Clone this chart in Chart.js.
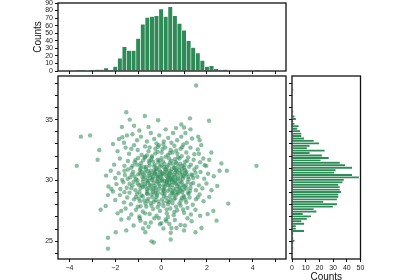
<!DOCTYPE html>
<html>
<head>
<meta charset="utf-8">
<script src="https://cdn.jsdelivr.net/npm/chart.js@4.4.1/dist/chart.umd.min.js"></script>
<style>
  html, body { margin: 0; padding: 0; width: 400px; height: 280px; overflow: hidden; background: #fff; }
  canvas { position: absolute; left: 0; top: 0; }
</style>
</head>
<body>
<canvas id="topHist" width="400" height="290"></canvas>
<canvas id="scatter" width="400" height="290"></canvas>
<canvas id="rightHist" width="400" height="290"></canvas>
<script>
// histogram on top (x marginal), bin centres and counts
const topBinCenters = [-3.6, -3.4, -3.2, -3.0, -2.8, -2.6, -2.4, -2.2, -2.0, -1.8,
  -1.6, -1.4, -1.2, -1.0, -0.8, -0.6, -0.4, -0.2, 0.0, 0.2,
  0.4, 0.6, 0.8, 1.0, 1.2, 1.4, 1.6, 1.8, 2.0, 2.2,
  2.4, 2.6, 2.8, 3.0, 3.2, 3.4, 3.6, 3.8, 4.0, 4.2];
const topBinCounts = [1, 1, 0, 1, 2, 2, 4, 1, 6, 17,
  32, 27, 27, 43, 62, 71, 72, 73, 82, 72,
  85, 73, 63, 54, 40, 31, 24, 14, 6, 7,
  3, 1, 2, 0, 0, 0, 0, 0, 0, 1];

// histogram on the right (y marginal)
const rightBinCenters = [24.45, 24.65, 24.85, 25.05, 25.25, 25.45, 25.65, 25.85,
  26.05, 26.25, 26.45, 26.65, 26.85, 27.05, 27.25, 27.45, 27.65, 27.85,
  28.05, 28.25, 28.45, 28.65, 28.85, 29.05, 29.25, 29.45, 29.65, 29.85,
  30.05, 30.25, 30.45, 30.65, 30.85, 31.05, 31.25, 31.45, 31.65, 31.85,
  32.05, 32.25, 32.45, 32.65, 32.85, 33.05, 33.25, 33.45, 33.65, 33.85,
  34.05, 34.25, 34.45, 34.65, 34.85, 35.05, 35.25, 35.45, 35.65, 35.85,
  36.05, 36.25, 36.45, 36.65, 36.85, 37.05, 37.25, 37.45, 37.65, 37.85];
const rightBinCounts = [1, 0, 1, 2, 1, 0, 1, 9,
  3, 3, 9, 7, 11, 14, 8, 18, 16, 30,
  33, 23, 33, 34, 34, 36, 35, 35, 34, 37,
  38, 49, 44, 31, 32, 44, 39, 35, 21, 27,
  22, 13, 24, 11, 13, 20, 16, 9, 7, 7,
  6, 4, 5, 2, 1, 3, 2, 0, 1, 0,
  0, 0, 0, 0, 0, 0, 0, 1];

// scatter points [x, y]
const outerPts = [
  [-3.68, 31.2], [-3.5, 33.6], [-3.1, 33.7], [-2.7, 32.5], [-2.77, 31.7], [-1.52, 35.6],
  [-1.37, 35.0], [-0.71, 35.3], [-1.71, 34.4], [-1.18, 34.5], [-0.13, 34.95], [-2.1, 33.0],
  [-1.84, 33.4], [-1.49, 33.7], [-1.69, 33.55], [1.53, 37.8], [1.26, 35.1], [2.09, 34.9],
  [0.88, 34.6], [2.19, 32.3], [2.63, 31.4], [4.16, 31.2], [2.87, 30.8], [1.65, 32.2],
  [1.84, 31.8], [1.97, 31.2], [1.62, 33.6], [1.68, 33.3], [1.28, 34.2], [1.06, 33.9],
  [-2.32, 24.4], [-2.32, 25.3], [-2.64, 27.6], [-2.42, 27.9], [-1.98, 25.75], [-1.52, 25.9],
  [-1.74, 26.8], [-1.41, 26.9], [-0.42, 25.0], [-0.32, 24.9], [0.42, 25.15], [0.42, 25.7],
  [1.0, 25.9], [1.5, 25.75], [1.76, 26.1], [2.42, 26.7], [2.28, 27.5], [2.03, 27.25],
  [2.93, 28.1], [-2.17, 29.3], [-2.32, 28.8], [-0.69, 25.75], [-0.69, 26.5], [-0.79, 26.05],
  [0.01, 26.5], [1.04, 26.3], [0.67, 26.1], [1.33, 26.65], [-1.74, 27.5], [-0.93, 26.9],
  [0.23, 26.65]
];
const upperPts = [
  [-1.62, 33.1], [-1.25, 33.8], [-1.05, 33.3], [-0.88, 33.6], [-0.62, 33.2], [-0.45, 33.9],
  [-0.3, 33.4], [-0.08, 33.7], [0.12, 33.2], [0.31, 33.5], [0.52, 33.9], [0.7, 33.3],
  [0.88, 33.6], [1.12, 33.1], [1.35, 33.45], [-0.2, 33.05], [0.45, 33.1], [-0.95, 34.1],
  [0.2, 34.2], [0.65, 34.3], [-0.55, 34.4], [1.0, 34.35],
  [-1.9, 32.4], [-1.55, 32.7], [-1.4, 32.2], [-1.18, 32.9], [-1.02, 32.5], [-0.85, 32.1],
  [-0.7, 32.8], [-0.55, 32.4], [-0.4, 32.0], [-0.25, 32.6], [-0.1, 32.9], [0.02, 32.3],
  [0.18, 32.7], [0.3, 32.1], [0.42, 32.5], [0.58, 32.85], [0.71, 32.2], [0.85, 32.6],
  [0.97, 32.95], [1.1, 32.3], [1.28, 32.7], [1.45, 32.15], [1.6, 32.55], [-0.62, 32.05],
  [-0.15, 32.35], [0.5, 32.3], [0.9, 32.0], [-1.3, 32.6], [0.1, 32.95], [1.75, 32.9],
  [-2.05, 31.3], [-1.8, 31.8], [-1.6, 31.2], [-1.45, 31.6], [-1.3, 31.05], [-1.15, 31.5],
  [-1.0, 31.85], [-0.9, 31.2], [-0.78, 31.65], [-0.65, 31.1], [-0.52, 31.45], [-0.4, 31.9],
  [-0.28, 31.3], [-0.15, 31.7], [-0.05, 31.15], [0.08, 31.55], [0.2, 31.95], [0.33, 31.25],
  [0.45, 31.6], [0.57, 31.05], [0.68, 31.4], [0.8, 31.8], [0.92, 31.2], [1.05, 31.55],
  [1.18, 31.9], [1.3, 31.3], [1.42, 31.7], [1.55, 31.1], [1.7, 31.5], [1.9, 31.25],
  [2.1, 31.7], [-0.7, 31.95], [0.15, 31.35], [0.6, 31.75], [-1.05, 31.3], [0.35, 31.8],
  [-0.35, 31.55], [1.0, 31.05], [-0.2, 31.0], [0.75, 31.15]
];
const middlePts = [
  [-2.4, 30.4], [-2.2, 30.8], [-2.0, 30.2], [-1.85, 30.6], [-1.7, 30.05], [-1.58, 30.45],
  [-1.45, 30.9], [-1.35, 30.25], [-1.22, 30.7], [-1.1, 30.1], [-1.0, 30.5], [-0.92, 30.85],
  [-0.82, 30.3], [-0.72, 30.65], [-0.62, 30.0], [-0.55, 30.4], [-0.45, 30.8], [-0.37, 30.15],
  [-0.28, 30.55], [-0.2, 30.95], [-0.12, 30.3], [-0.04, 30.7], [0.05, 30.1], [0.13, 30.5],
  [0.22, 30.9], [0.3, 30.25], [0.38, 30.6], [0.47, 30.05], [0.55, 30.45], [0.64, 30.85],
  [0.72, 30.2], [0.82, 30.6], [0.9, 30.95], [1.0, 30.35], [1.1, 30.75], [1.2, 30.1],
  [1.32, 30.5], [1.45, 30.9], [1.58, 30.3], [1.72, 30.7], [1.88, 30.15], [2.05, 30.55],
  [2.3, 30.35], [2.55, 30.8], [-0.5, 30.6], [0.0, 30.4], [0.35, 30.8], [0.7, 30.5],
  [-0.85, 30.7], [-0.15, 30.15], [0.6, 30.3], [-1.28, 30.5], [1.05, 30.6], [0.25, 30.35],
  [-0.68, 30.25], [0.95, 30.15], [-0.3, 30.85], [0.45, 30.7], [-1.6, 30.8], [1.4, 30.2],
  [-2.3, 29.5], [-2.1, 29.1], [-1.95, 29.7], [-1.78, 29.3], [-1.65, 29.85], [-1.5, 29.4],
  [-1.38, 29.0], [-1.25, 29.6], [-1.12, 29.2], [-1.02, 29.75], [-0.9, 29.35], [-0.8, 29.9],
  [-0.7, 29.5], [-0.6, 29.1], [-0.5, 29.65], [-0.42, 29.25], [-0.32, 29.8], [-0.24, 29.4],
  [-0.14, 29.0], [-0.06, 29.55], [0.04, 29.95], [0.12, 29.3], [0.2, 29.7], [0.29, 29.15],
  [0.37, 29.5], [0.46, 29.9], [0.54, 29.35], [0.63, 29.75], [0.72, 29.05], [0.8, 29.45],
  [0.9, 29.85], [0.98, 29.25], [1.08, 29.6], [1.18, 29.0], [1.28, 29.4], [1.4, 29.8],
  [1.52, 29.2], [1.65, 29.6], [1.8, 29.35], [1.98, 29.75], [2.2, 29.2], [2.45, 29.55],
  [-0.35, 29.05], [0.1, 29.6], [0.55, 29.1], [-0.85, 29.6], [1.0, 29.5], [-0.15, 29.85],
  [0.4, 29.25], [-1.2, 29.9], [0.75, 29.7], [-0.55, 29.4], [0.25, 29.95], [1.3, 29.7],
  [-0.95, 29.05], [0.85, 29.15]
];
const corePts = [
  [-0.78, 30.12], [-0.42, 30.48], [-0.06, 30.82], [0.28, 30.02], [0.62, 30.66], [0.96, 30.42],
  [-0.96, 29.62], [-0.58, 29.82], [-0.22, 29.18], [0.16, 29.48], [0.48, 29.62], [0.82, 29.32],
  [1.16, 29.88], [-1.16, 30.32], [-0.36, 30.28], [0.08, 30.62], [0.42, 30.18], [0.78, 30.88],
  [1.12, 30.52], [-0.7, 29.72], [-0.28, 29.58], [0.14, 29.12], [0.58, 29.84], [0.94, 29.62],
  [-0.5, 31.22], [-0.12, 31.48], [0.26, 31.12], [0.64, 31.52], [1.02, 31.28], [-0.88, 31.42],
  [-0.62, 28.92], [-0.18, 28.78], [0.22, 28.58], [0.66, 28.82], [1.06, 28.42], [-0.98, 28.52],
  [-0.3, 30.62], [0.36, 29.78], [-0.08, 29.32], [0.72, 30.08], [-1.38, 29.72], [1.36, 30.42],
  [-0.44, 31.72], [0.52, 31.32], [-0.74, 28.36], [0.4, 28.42], [0.02, 31.82], [-1.24, 31.22],
  [1.22, 31.12], [0.18, 30.72]
];
const innerPts = [
  [-0.92, 30.58], [-0.66, 30.92], [-0.48, 30.22], [-0.24, 30.72], [-0.02, 30.26], [0.18, 30.94],
  [0.34, 30.44], [0.52, 30.12], [0.68, 30.78], [0.86, 30.28], [1.04, 30.86], [-1.04, 30.02],
  [-0.8, 29.48], [-0.56, 29.98], [-0.34, 29.34], [-0.1, 29.72], [0.08, 29.22], [0.3, 29.62],
  [0.5, 29.02], [0.7, 29.56], [0.92, 29.04], [1.1, 29.34], [-0.74, 31.08], [-0.52, 31.62],
  [-0.3, 31.16], [-0.08, 31.62], [0.12, 31.08], [0.38, 31.46], [0.6, 31.02], [0.84, 31.36],
  [1.14, 31.62], [-1.12, 31.68], [-0.86, 28.76], [-0.6, 28.32], [-0.38, 28.62], [-0.12, 28.28],
  [0.12, 28.72], [0.34, 28.22], [0.56, 28.46], [0.8, 28.12], [1.0, 28.62], [-0.26, 32.22],
  [0.06, 32.58], [0.38, 32.26], [0.66, 32.46], [-0.5, 32.72], [0.24, 27.62], [-0.42, 27.92],
  [0.58, 27.42], [-0.9, 27.88], [0.02, 30.54], [0.46, 30.94], [-0.16, 30.48], [0.24, 29.84],
  [-0.62, 29.26], [0.66, 29.28], [-0.4, 30.02], [0.84, 29.94], [-1.3, 29.36], [1.26, 29.14],
  [-0.2, 29.98], [0.14, 29.96], [0.44, 30.36], [-0.58, 30.76], [0.9, 30.66], [-0.28, 28.96],
  [0.46, 28.96], [-1.46, 30.14], [1.5, 30.64], [0.0, 31.26], [-0.72, 31.86], [0.74, 31.9],
  [-0.14, 32.76], [0.92, 32.74], [-1.6, 29.04], [1.6, 28.62], [-1.02, 27.84], [0.96, 27.62],
  [-0.1, 26.92], [0.36, 26.42], [-0.76, 30.46], [0.28, 30.58], [0.62, 29.98], [-0.44, 29.56],
  [0.04, 28.94], [-0.9, 30.98], [1.18, 30.28], [-0.04, 30.0], [0.36, 30.12], [-0.2, 30.34]
];
const lowerPts = [
  [-2.0, 28.4], [-1.8, 28.8], [-1.62, 28.2], [-1.48, 28.6], [-1.32, 28.05], [-1.18, 28.45],
  [-1.05, 28.9], [-0.92, 28.3], [-0.8, 28.7], [-0.68, 28.1], [-0.56, 28.5], [-0.44, 28.85],
  [-0.32, 28.25], [-0.2, 28.65], [-0.08, 28.05], [0.04, 28.45], [0.15, 28.9], [0.27, 28.3],
  [0.38, 28.7], [0.5, 28.15], [0.62, 28.55], [0.74, 28.95], [0.86, 28.35], [0.98, 28.75],
  [1.1, 28.2], [1.24, 28.6], [1.38, 28.0], [1.52, 28.45], [1.68, 28.85], [1.85, 28.3],
  [2.1, 28.65], [-0.6, 28.9], [0.3, 28.05], [0.9, 28.55], [-0.25, 28.4], [0.55, 28.8],
  [-1.1, 28.65], [0.1, 28.2], [-0.45, 28.15], [1.2, 28.9],
  [-1.9, 27.3], [-1.55, 27.7], [-1.3, 27.2], [-1.1, 27.6], [-0.95, 27.05], [-0.8, 27.45],
  [-0.65, 27.85], [-0.5, 27.25], [-0.35, 27.65], [-0.2, 27.1], [-0.05, 27.5], [0.1, 27.9],
  [0.25, 27.3], [0.4, 27.7], [0.55, 27.15], [0.7, 27.55], [0.85, 27.95], [1.0, 27.35],
  [1.15, 27.75], [1.3, 27.2], [1.5, 27.6], [1.7, 27.1], [-0.7, 27.3], [0.3, 27.0],
  [0.65, 27.85], [-0.15, 27.8],
  [-1.2, 26.3], [-0.9, 26.7], [-0.55, 26.2], [-0.3, 26.9], [-0.05, 26.4], [0.2, 26.8],
  [0.45, 26.1], [0.6, 26.75], [0.85, 26.35], [1.15, 26.9], [0.1, 26.05], [-0.45, 26.55]
];

// axis ticks
const xTicks = [-4, -3, -2, -1, 0, 1, 2, 3, 4, 5];
const xTickLabels = [-4, -2, 0, 2, 4];
const yTicks = [24, 25, 26, 27, 28, 29, 30, 31, 32, 33, 34, 35, 36, 37, 38];
const yTickLabels = [25, 30, 35];
const countTicksTop = [0, 10, 20, 30, 40, 50, 60, 70, 80, 90];
const countTicksRight = [0, 10, 20, 30, 40, 50];

const green = 'rgb(46,139,87)';
const tickFont = { family: '"Liberation Sans", Arial, sans-serif', size: 7 };
const titleFont = { family: '"Liberation Sans", Arial, sans-serif', size: 10, lineHeight: 1 };

function fmt(v) {
  return v < 0 ? '\u2212' + Math.abs(v) : String(v);
}

// fix axis box size so the three plot areas line up
function fixBox(size) {
  return function (scale) {
    if (scale.isHorizontal()) scale.height = size; else scale.width = size;
    scale.paddingTop = 0; scale.paddingBottom = 0;
    scale.paddingLeft = 0; scale.paddingRight = 0;
  };
}

function setTicks(list) {
  return function (scale) {
    scale.ticks = list.map(v => ({ value: v }));
  };
}

const framePlugin = {
  id: 'frame',
  afterDraw(chart) {
    const { ctx, chartArea: a } = chart;
    ctx.save();
    ctx.strokeStyle = '#111';
    ctx.lineWidth = 1.3;
    ctx.strokeRect(a.left, a.top, a.right - a.left, a.bottom - a.top);
    ctx.restore();
  }
};

function axis(extra) {
  return Object.assign({
    type: 'linear',
    offset: false,
    border: { display: false },
    grid: { drawOnChartArea: false, drawTicks: true, tickLength: 3, color: '#111', offset: false },
    ticks: { font: tickFont, color: '#222', padding: 2, autoSkip: false, maxRotation: 0 }
  }, extra);
}

const common = {
  responsive: false,
  animation: false,
  devicePixelRatio: 1,
  plugins: { legend: { display: false }, tooltip: { enabled: false } }
};

// top histogram
new Chart(document.getElementById('topHist'), {
  type: 'bar',
  data: {
    datasets: [{
      data: topBinCenters.map((c, i) => ({ x: c, y: topBinCounts[i] })),
      backgroundColor: green,
      borderColor: 'rgba(255,255,255,0.75)',
      borderWidth: 0.6,
      barPercentage: 1,
      categoryPercentage: 1
    }]
  },
  options: Object.assign({}, common, {
    layout: { padding: { left: 33, top: 3, right: 114, bottom: 211 } },
    scales: {
      x: axis({
        min: -4.5, max: 5.45,
        afterBuildTicks: setTicks(xTicks),
        afterFit: fixBox(8),
        ticks: { display: false }
      }),
      y: axis({
        min: 0, max: 90,
        afterBuildTicks: setTicks(countTicksTop),
        afterFit: fixBox(25),
        title: { display: true, text: 'Counts', font: titleFont, color: '#111', padding: 0 },
        ticks: { font: tickFont, color: '#222', padding: 2, autoSkip: false }
      })
    }
  }),
  plugins: [framePlugin]
});

// scatter
const allPts = outerPts.concat(upperPts, middlePts, corePts, innerPts, lowerPts);
new Chart(document.getElementById('scatter'), {
  type: 'scatter',
  data: {
    datasets: [{
      data: allPts.map(p => ({ x: p[0], y: p[1] })),
      backgroundColor: 'rgba(46,139,87,0.55)',
      borderWidth: 0,
      pointRadius: 2.2
    }]
  },
  options: Object.assign({}, common, {
    layout: { padding: { left: 33, top: 76, right: 114, bottom: 11 } },
    scales: {
      x: axis({
        min: -4.5, max: 5.45,
        afterBuildTicks: setTicks(xTicks),
        afterFit: fixBox(20),
        ticks: {
          font: tickFont, color: '#222', padding: 2, autoSkip: false, maxRotation: 0,
          callback: v => xTickLabels.includes(v) ? fmt(v) : ''
        }
      }),
      y: axis({
        min: 23.55, max: 38.58,
        afterBuildTicks: setTicks(yTicks),
        afterFit: fixBox(25),
        ticks: {
          font: tickFont, color: '#222', padding: 2, autoSkip: false,
          callback: v => yTickLabels.includes(v) ? String(v) : ''
        }
      })
    }
  }),
  plugins: [framePlugin]
});

// right histogram
new Chart(document.getElementById('rightHist'), {
  type: 'bar',
  data: {
    datasets: [{
      data: rightBinCenters.map((c, i) => ({ x: rightBinCounts[i], y: c })),
      backgroundColor: green,
      borderColor: 'rgba(255,255,255,0.75)',
      borderWidth: 0.6,
      barPercentage: 1,
      categoryPercentage: 1
    }]
  },
  options: Object.assign({}, common, {
    indexAxis: 'y',
    layout: { padding: { left: 284, top: 76, right: 39.5, bottom: 8 } },
    scales: {
      x: axis({
        min: 0, max: 50,
        afterBuildTicks: setTicks(countTicksRight),
        afterFit: fixBox(23),
        title: { display: true, text: 'Counts', font: titleFont, color: '#111', padding: 0 }
      }),
      y: axis({
        min: 23.55, max: 38.58,
        afterBuildTicks: setTicks(yTicks),
        afterFit: fixBox(8),
        ticks: { display: false }
      })
    }
  }),
  plugins: [framePlugin]
});
</script>
</body>
</html>
